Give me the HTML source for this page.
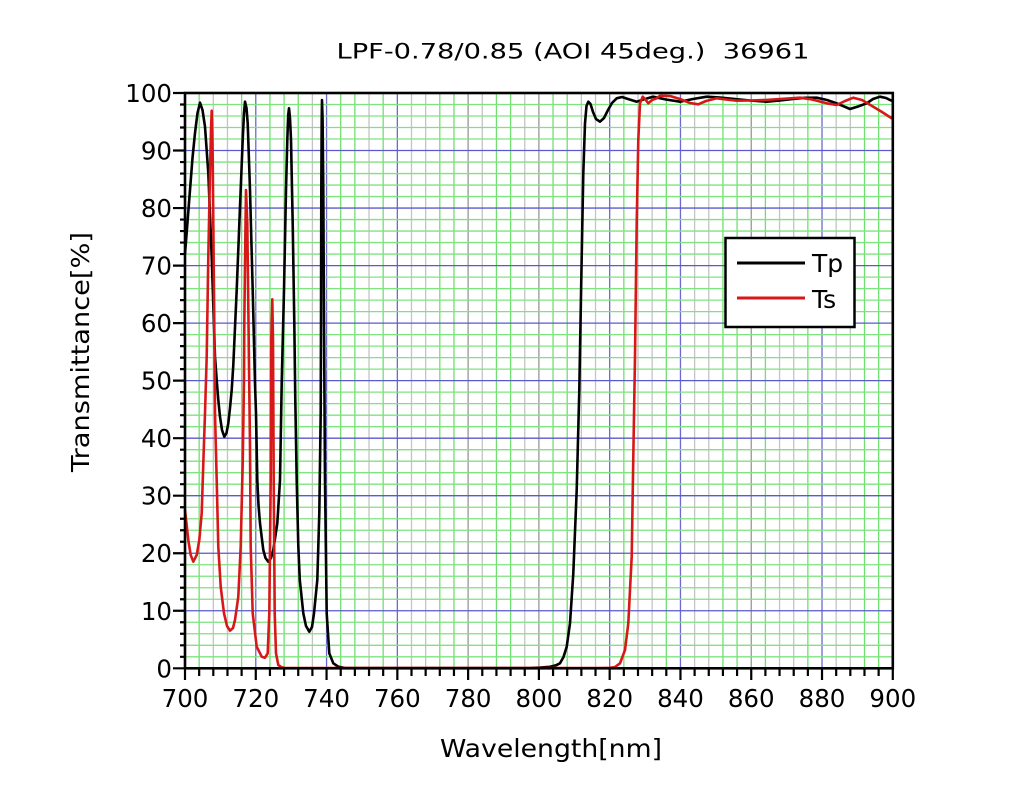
<!DOCTYPE html>
<html><head><meta charset="utf-8"><style>
html,body{margin:0;padding:0;background:#fff;}
svg{display:block;}
text{font-family:"DejaVu Sans","Liberation Sans",sans-serif;fill:#000;}
</style></head><body>
<svg width="1035" height="800" viewBox="0 0 1035 800" xmlns="http://www.w3.org/2000/svg">
<rect width="1035" height="800" fill="#fff"/>
<!-- vertical grid -->
<path fill="none" stroke="#6fe06f" stroke-width="1.3" d="M199.16,93V668M241.62,93V668M269.94,93V668M284.09,93V668M298.25,93V668M340.72,93V668M354.87,93V668M383.18,93V668M439.81,93V668M453.96,93V668M496.43,93V668M510.59,93V668M553.06,93V668M567.21,93V668M623.84,93V668M666.3,93V668M722.93,93V668M737.08,93V668M765.4,93V668M807.86,93V668M864.49,93V668M878.64,93V668"/>
<path fill="none" stroke="#c4c4c4" stroke-width="1.3" d="M213.31,93V668M227.47,93V668M312.4,93V668M369.03,93V668M411.5,93V668M425.65,93V668M482.28,93V668M524.74,93V668M581.37,93V668M595.52,93V668M637.99,93V668M652.15,93V668M694.62,93V668M708.77,93V668M779.55,93V668M793.71,93V668M836.18,93V668M850.33,93V668"/>
<path fill="none" stroke="#979797" stroke-width="1.3" d="M468.12,93V668M538.9,93V668M751.24,93V668"/>
<path fill="none" stroke="#6a6ad0" stroke-width="1.3" d="M255.78,93V668M326.56,93V668M397.34,93V668M609.68,93V668M680.46,93V668M822.02,93V668"/>
<!-- horizontal grid -->
<path fill="none" stroke="#7ee47e" stroke-width="1.3" d="M185,656.79H893M185,645.29H893M185,633.78H893M185,622.28H893M185,599.26H893M185,587.76H893M185,576.25H893M185,564.75H893M185,541.73H893M185,530.23H893M185,518.72H893M185,507.22H893M185,484.2H893M185,472.7H893M185,461.19H893M185,449.69H893M185,426.67H893M185,415.17H893M185,403.66H893M185,392.16H893M185,369.14H893M185,357.64H893M185,346.13H893M185,334.63H893M185,311.61H893M185,300.11H893M185,288.6H893M185,277.1H893M185,254.08H893M185,242.58H893M185,231.07H893M185,219.57H893M185,196.55H893M185,185.05H893M185,173.54H893M185,162.04H893M185,139.02H893M185,127.52H893M185,116.01H893M185,104.51H893"/>
<path fill="none" stroke="#5a5acc" stroke-width="1.3" d="M185,610.77H893M185,553.24H893M185,495.71H893M185,438.18H893M185,380.65H893M185,323.12H893M185,265.59H893M185,208.06H893M185,150.53H893"/>
<!-- Tp -->
<path fill="none" stroke="#000" stroke-width="2.6" stroke-linejoin="round" d="M185,254 L187.5,222 L190,190 L192.5,158 L195,133 L197.5,113 L200,102.7 L202.5,110 L205,126.7 L208.3,173 L211.7,256.7 L215,356.7 L216.7,380 L218.3,400 L220,416.7 L222,430 L224.3,436.7 L226.5,433 L228.3,423.3 L230,408 L231.7,390 L233.3,365 L236.7,290 L240,206.7 L242.7,140 L244,113 L245,101.7 L246.5,108 L247.7,123.3 L250,190 L252.7,290 L255,383.3 L256,413.3 L257.3,480 L258.5,505 L260,523.3 L263.3,550 L265.5,558 L268.3,561.7 L271,558 L273.3,550 L277.3,523.3 L280,480 L281.7,383.3 L284,290 L286,190 L287.3,140 L288.2,115 L289,108.3 L290,118 L291,140 L292.7,223.3 L294.3,323.3 L295.3,400 L296.7,480 L298.3,546 L299.8,580 L303.3,613.3 L306,626 L309.3,631.7 L312,627 L314,613.3 L317.3,580 L319.3,513.3 L320.7,413.3 L321,323.3 L321.3,190 L321.7,120 L322,100 L322.6,120 L323.3,190 L324,323.3 L325,480 L326.7,613.3 L329.3,653.3 L333.3,663.3 L338.3,666.7 L345,668 L530,668 L540,667.6 L550,666.8 L556,665.3 L560,663.3 L563.5,657 L566.7,646.7 L570,623.3 L573.3,573.3 L576.7,490 L579.3,390 L581.7,256.7 L583.3,173.3 L585,123.3 L586.5,106 L588.3,101.7 L590.5,104 L593,112 L596,119 L600,121.7 L604,118 L608,110 L612,103 L616.7,98.3 L622,97 L628,99 L636.7,101.7 L645,99 L653,96.7 L666,99.5 L680,101.7 L693,99 L706.7,96.7 L720,97.5 L735,99 L750,100.5 L766.7,101.7 L780,100.5 L793,99 L805,97.8 L816.7,97.7 L827,100 L836.7,103.3 L850,109 L858,106.5 L866.7,103.3 L873,99 L880,96.7 L886,98 L890,100 L893,101"/>
<!-- Ts -->
<path fill="none" stroke="#d81818" stroke-width="2.6" stroke-linejoin="round" d="M185,510 L188.3,540 L190.7,555 L193.3,561.7 L196.7,555 L199.3,540 L201.7,513.3 L203.3,463.3 L205,413.3 L206.7,356.7 L208.3,256.7 L210,173.3 L211,130 L211.7,110.7 L212.2,130 L212.7,156.7 L213.3,223.3 L214.3,323.3 L215,413.3 L216.7,480 L218.3,546.7 L220.7,586.7 L224,613.3 L227,626 L230,630.7 L233,628 L235,620 L238.3,596.7 L240.7,546.7 L242.7,463.3 L244,380 L244.3,323.3 L245.3,240 L246,190 L247.3,223.3 L248.3,306.7 L249.3,390 L250,446.7 L250.7,546.7 L252.7,613.3 L256.7,646.7 L261.7,656.7 L265,657.7 L267.7,653.3 L269.3,613.3 L270.7,480 L271.3,340 L272.3,299.3 L273,340 L273.7,480 L274.7,613.3 L276,653.3 L278.3,665 L281.7,667.3 L285,668 L600,668 L610,667.8 L615,667 L620,663.3 L625,650 L628.3,623.3 L631.7,556.7 L633.3,456.7 L635,356.7 L636.7,223.3 L638.3,140 L640,103.3 L642.7,96.7 L645,99 L648.3,103.3 L652,100 L656.7,98.3 L660,95.7 L670,96 L680,99 L690,103 L698.3,104.3 L706,101 L716.7,98.3 L726,99.5 L736.7,100.7 L750,100.5 L765,100 L780,99 L800,97.7 L812,99.5 L826.7,103.3 L836.7,105 L845,101 L853.3,97.7 L862,100 L873.3,106.7 L882,112 L891.7,118.3 L893,118.5"/>
<!-- axes frame -->
<rect x="185" y="93" width="707.8" height="575.3" fill="none" stroke="#000" stroke-width="2.6"/>
<!-- y ticks -->
<path fill="none" stroke="#000" stroke-width="2.2" d="M173,668.3H185M180,656.79H185M180,645.29H185M180,633.78H185M180,622.28H185M173,610.77H185M180,599.26H185M180,587.76H185M180,576.25H185M180,564.75H185M173,553.24H185M180,541.73H185M180,530.23H185M180,518.72H185M180,507.22H185M173,495.71H185M180,484.2H185M180,472.7H185M180,461.19H185M180,449.69H185M173,438.18H185M180,426.67H185M180,415.17H185M180,403.66H185M180,392.16H185M173,380.65H185M180,369.14H185M180,357.64H185M180,346.13H185M180,334.63H185M173,323.12H185M180,311.61H185M180,300.11H185M180,288.6H185M180,277.1H185M173,265.59H185M180,254.08H185M180,242.58H185M180,231.07H185M180,219.57H185M173,208.06H185M180,196.55H185M180,185.05H185M180,173.54H185M180,162.04H185M173,150.53H185M180,139.02H185M180,127.52H185M180,116.01H185M180,104.51H185M173,93H185"/>
<!-- x ticks -->
<path fill="none" stroke="#000" stroke-width="2.2" d="M185,668V680M199.16,668V676M213.31,668V676M227.47,668V676M241.62,668V676M255.78,668V680M269.94,668V676M284.09,668V676M298.25,668V676M312.4,668V676M326.56,668V680M340.72,668V676M354.87,668V676M369.03,668V676M383.18,668V676M397.34,668V680M411.5,668V676M425.65,668V676M439.81,668V676M453.96,668V676M468.12,668V680M482.28,668V676M496.43,668V676M510.59,668V676M524.74,668V676M538.9,668V680M553.06,668V676M567.21,668V676M581.37,668V676M595.52,668V676M609.68,668V680M623.84,668V676M637.99,668V676M652.15,668V676M666.3,668V676M680.46,668V680M694.62,668V676M708.77,668V676M722.93,668V676M737.08,668V676M751.24,668V680M765.4,668V676M779.55,668V676M793.71,668V676M807.86,668V676M822.02,668V680M836.18,668V676M850.33,668V676M864.49,668V676M878.64,668V676M892.8,668V680"/>
<!-- y labels -->
<g font-size="24.5" text-anchor="end">
<text x="172" y="102">100</text>
<text x="172" y="159.5">90</text>
<text x="172" y="217">80</text>
<text x="172" y="274.6">70</text>
<text x="172" y="332.1">60</text>
<text x="172" y="389.7">50</text>
<text x="172" y="447.2">40</text>
<text x="172" y="504.7">30</text>
<text x="172" y="562.2">20</text>
<text x="172" y="619.8">10</text>
<text x="172" y="677.3">0</text>
</g>
<!-- x labels -->
<g font-size="24.5" text-anchor="middle">
<text x="185" y="707">700</text>
<text x="255.78" y="707">720</text>
<text x="326.56" y="707">740</text>
<text x="397.34" y="707">760</text>
<text x="468.12" y="707">780</text>
<text x="538.9" y="707">800</text>
<text x="609.68" y="707">820</text>
<text x="680.46" y="707">840</text>
<text x="751.24" y="707">860</text>
<text x="822.02" y="707">880</text>
<text x="892.8" y="707">900</text>
</g>
<!-- titles -->
<text x="573" y="58.3" font-size="21" text-anchor="middle" textLength="473" lengthAdjust="spacingAndGlyphs" xml:space="preserve">LPF-0.78/0.85 (AOI 45deg.)  36961</text>
<text x="551" y="757" font-size="25" text-anchor="middle" textLength="222" lengthAdjust="spacingAndGlyphs">Wavelength[nm]</text>
<text transform="translate(89,352) rotate(-90)" x="0" y="0" font-size="25" text-anchor="middle" textLength="240" lengthAdjust="spacingAndGlyphs">Transmittance[%]</text>
<!-- legend -->
<rect x="725.5" y="238" width="129" height="89" fill="#fff" stroke="#000" stroke-width="2.5"/>
<line x1="737" y1="263" x2="805" y2="263" stroke="#000" stroke-width="3"/>
<line x1="737" y1="298" x2="805" y2="298" stroke="#d81818" stroke-width="3"/>
<text x="812" y="272" font-size="25">Tp</text>
<text x="812" y="308" font-size="25">Ts</text>
</svg>
</body></html>
